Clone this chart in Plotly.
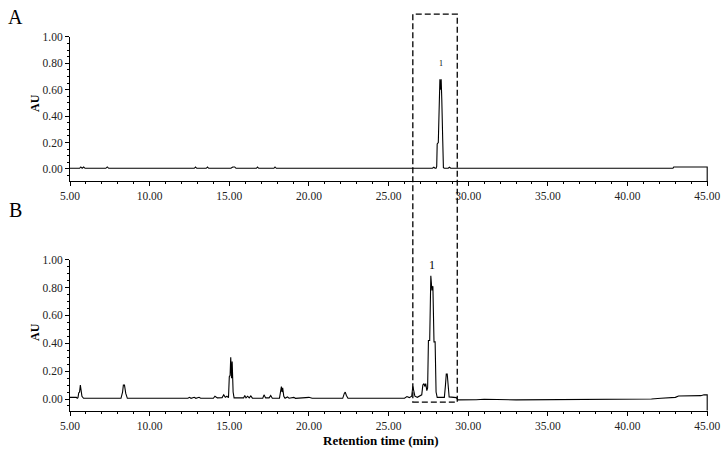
import plotly.graph_objects as go
import plotly.subplots as pls

# chromatogram A (standard)
time_a = [5.0, 5.6, 5.68, 5.76, 5.86, 5.94, 6.02, 7.25, 7.34, 7.43,
          12.8, 12.88, 12.96, 13.55, 13.63, 13.71, 15.1, 15.22, 15.34, 15.42,
          16.7, 16.77, 16.85, 17.8, 17.87, 17.95, 27.75, 27.84, 27.92,
          27.98, 28.02, 28.05, 28.12, 28.16, 28.22, 28.26, 28.30, 28.34,
          28.36, 28.40, 28.44, 28.5, 28.74, 28.82, 28.9, 42.85, 42.9,
          45.0, 45.0]
au_a = [0.005, 0.005, 0.015, 0.005, 0.015, 0.005, 0.005, 0.005, 0.015, 0.005,
        0.005, 0.014, 0.005, 0.005, 0.014, 0.005, 0.005, 0.015, 0.015, 0.005,
        0.005, 0.014, 0.005, 0.005, 0.015, 0.005, 0.005, 0.013, 0.005,
        0.005, 0.02, 0.19, 0.20, 0.52, 0.68, 0.60, 0.68, 0.52,
        0.22, 0.21, 0.01, 0.005, 0.005, 0.013, 0.005, 0.005, 0.015,
        0.015, -0.095]

# chromatogram B (sample)
time_b = [5.0, 5.4, 5.45, 5.5, 5.55, 5.6, 5.65, 5.7, 5.75, 5.85,
          8.2, 8.3, 8.35, 8.42, 8.5, 8.6,
          12.4, 12.5, 12.6, 12.8, 12.9, 13.1, 13.2,
          14.0, 14.1, 14.25, 14.55, 14.65, 14.75, 14.85, 14.95,
          15.0, 15.05, 15.09, 15.14, 15.18, 15.24, 15.3,
          15.9, 15.97, 16.05, 16.15, 16.25, 16.35, 16.45,
          17.1, 17.18, 17.28, 17.5, 17.6, 17.7,
          18.15, 18.22, 18.27, 18.31, 18.35, 18.42, 18.5, 18.65, 18.75,
          19.05, 19.15, 19.8, 20.0, 20.2,
          22.12, 22.22, 22.28, 22.35, 22.45,
          26.0, 26.15, 26.3, 26.45, 26.52, 26.58, 26.65, 26.8,
          27.0, 27.08, 27.15, 27.22, 27.28, 27.33, 27.4, 27.45,
          27.5, 27.58, 27.65, 27.72, 27.78, 27.85, 27.92, 27.98, 28.05,
          28.5, 28.57, 28.62, 28.68, 28.73, 28.8,
          29.25, 29.35, 30.5, 31.0, 33.0, 36.0, 39.0, 41.0, 41.5,
          42.1, 43.0, 43.2, 44.6, 44.8, 45.0, 45.0]
au_b = [0.012, 0.012, 0.005, 0.01, 0.045, 0.05, 0.10, 0.06, 0.02, 0.005,
        0.005, 0.05, 0.10, 0.10, 0.04, 0.005,
        0.005, 0.012, 0.005, 0.012, 0.005, 0.012, 0.005,
        0.005, 0.02, 0.008, 0.01, 0.03, 0.012, 0.02, 0.01,
        0.16, 0.17, 0.30, 0.15, 0.27, 0.05, 0.008,
        0.008, 0.025, 0.008, 0.02, 0.008, 0.022, 0.006,
        0.006, 0.03, 0.008, 0.008, 0.025, 0.006,
        0.006, 0.06, 0.09, 0.05, 0.08, 0.02, 0.006, 0.015, 0.006,
        0.012, 0.005, 0.01, 0.012, 0.005,
        0.005, 0.04, 0.05, 0.025, 0.005,
        0.006, 0.018, 0.01, 0.02, 0.09, 0.06, 0.02, 0.012,
        0.025, 0.03, 0.10, 0.11, 0.09, 0.11, 0.06, 0.08,
        0.42, 0.42, 0.885, 0.78, 0.81, 0.41, 0.41, 0.05, 0.012,
        0.012, 0.10, 0.18, 0.18, 0.08, 0.015,
        0.01, -0.006, -0.005, -0.002, -0.006, -0.004, -0.006, -0.002, 0.0,
        0.005, 0.012, 0.022, 0.024, 0.03, 0.03, -0.084]

x_ticks = [5, 10, 15, 20, 25, 30, 35, 40, 45]
y_ticks = [0, 0.2, 0.4, 0.6, 0.8, 1.0]

FONT = "Liberation Serif"

fig = pls.make_subplots(rows=2, cols=1)
fig.add_trace(go.Scatter(x=time_a, y=au_a, mode="lines",
                         line=dict(color="black", width=1.1)), row=1, col=1)
fig.add_trace(go.Scatter(x=time_b, y=au_b, mode="lines",
                         line=dict(color="black", width=1.1)), row=2, col=1)

axis_common = dict(showline=True, linecolor="black", linewidth=1, showgrid=False,
                   zeroline=False, ticks="outside", ticklen=4, tickcolor="black",
                   automargin=False,
                   tickfont=dict(family=FONT, size=11.5, color="#222"))

fig.update_xaxes(range=[5, 45.05], tickvals=x_ticks, tickformat=".2f",
                 minor=dict(dtick=1, ticks="outside", ticklen=2, tickcolor="black"),
                 domain=[0, 1], **axis_common)
fig.update_yaxes(tickvals=y_ticks, tickformat=".2f",
                 minor=dict(dtick=0.05, ticks="outside", ticklen=2, tickcolor="black"),
                 **axis_common)
fig.update_yaxes(range=[-0.095, 1.0], domain=[0.602, 0.919], row=1, col=1)
fig.update_yaxes(range=[-0.084, 1.0], domain=[0.0993, 0.4305], row=2, col=1)

# dashed box around peak 1
fig.add_shape(type="rect", xref="x2", yref="paper", x0=26.52, x1=29.31,
              y0=0.118, y1=0.969, line=dict(color="black", width=1.3, dash="6px,3px"))

ann = [
    dict(text="A", x=-0.086, y=0.963, font=dict(size=20)),
    dict(text="B", x=-0.086, y=0.54, font=dict(size=20)),
    dict(text="<b>AU</b>", x=-0.055, y=0.774, textangle=-90, font=dict(size=12)),
    dict(text="<b>AU</b>", x=-0.055, y=0.272, textangle=-90, font=dict(size=12)),
    dict(text="<b>Retention time (min)</b>", x=0.488, y=0.035, font=dict(size=13)),
]
for a in ann:
    a["font"]["family"] = FONT
    a["font"]["color"] = "black"
    fig.add_annotation(xref="paper", yref="paper", showarrow=False,
                       xanchor="center", yanchor="middle", **a)

fig.add_annotation(x=28.26, y=0.80, xref="x", yref="y", text="1", showarrow=False,
                   font=dict(family=FONT, size=8, color="black"))
fig.add_annotation(x=27.7, y=0.96, xref="x2", yref="y2", text="1", showarrow=False,
                   font=dict(family=FONT, size=12, color="black"))

fig.update_layout(width=728, height=456, showlegend=False,
                  margin=dict(l=70, r=20, t=0, b=0),
                  plot_bgcolor="white", paper_bgcolor="white")

# drop the page's default body margin so the figure sits at the window corner
fig.write_html("out.html", config={"displayModeBar": False},
               post_script="document.body.style.margin='0';")
